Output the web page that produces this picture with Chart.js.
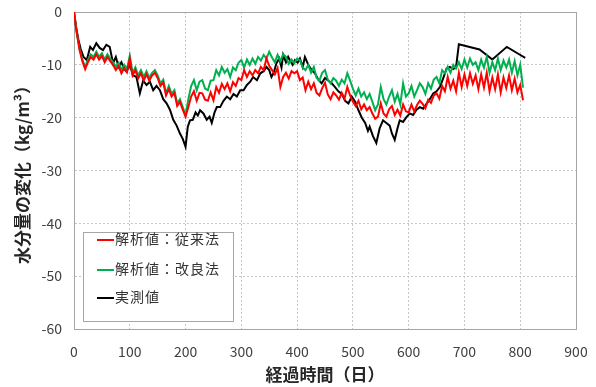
<!DOCTYPE html>
<html>
<head>
<meta charset="utf-8">
<script src="https://cdn.jsdelivr.net/npm/chart.js@4.4.0/dist/chart.umd.min.js"></script>
<style>
  html, body { margin: 0; padding: 0; background: #fff; }
  #wrap { position: relative; width: 596px; height: 387px; }
  #legend {
    position: absolute; left: 83px; top: 232px; width: 149px; height: 88px;
    border: 1px solid #a6a6a6; background: #fff;
    font-family: "Noto Sans CJK JP", sans-serif; font-size: 14px; color: #333;
  }
  .item { position: absolute; left: 13px; height: 18px; line-height: 18px; white-space: nowrap; letter-spacing: 1px; }
  .item span { display: inline-block; width: 17px; height: 2px; vertical-align: middle; margin-right: 1px; }
</style>
</head>
<body>
<div id="wrap">
  <canvas id="chart" width="596" height="387"></canvas>
  <div id="legend"></div>
</div>
<script>
// 解析値（従来法・改良法）の日数
const simDays = [0,5,10,15,20,25,30,35,40,45,50,55,60,65,70,75,80,85,90,95,
  100,105,110,115,120,125,130,135,140,145,150,155,160,165,170,175,180,185,190,195,
  200,205,210,215,220,225,230,235,240,245,250,255,260,265,270,275,280,285,290,295,
  300,305,310,315,320,325,330,335,340,345,350,355,360,365,370,375,380,385,390,395,
  400,405,410,415,420,425,430,435,440,445,450,455,460,465,470,475,480,485,490,495,
  500,505,510,515,520,525,530,535,540,545,550,555,560,565,570,575,580,585,590,595,
  600,605,610,615,620,625,630,635,640,645,650,655,660,665,670,675,680,685,690,695,
  700,705,710,715,720,725,730,735,740,745,750,755,760,765,770,775,780,785,790,795,
  800,805];

const conventional = [0,-4,-7.2,-9.3,-10.8,-9.5,-8.5,-9,-8,-9,-8.3,-9.5,-8.5,-9.3,-10,-11,-10.2,-11.6,-10.6,-11.4,
  -8.8,-12,-11,-12.6,-11.6,-13,-11.8,-13,-12,-11.5,-12.5,-14,-13.3,-15.8,-14.6,-16,-15.3,-17.8,-17,-18.5,
  -19.8,-18,-16,-15,-16.8,-15.3,-15.4,-16.6,-16.8,-15.2,-16.7,-14.2,-15.3,-13.6,-14.6,-13.5,-15,-13.3,-14,-12.5,
  -12.9,-11,-12.3,-11.2,-12,-11,-11.6,-10.4,-11,-8.8,-10.2,-11,-11.8,-10.6,-14.2,-12.3,-11.5,-12.6,-11.2,-11.6,
  -11.2,-12.9,-12.4,-14.8,-13.2,-14.6,-13.5,-15.3,-15.8,-14.4,-13.4,-15.6,-16.5,-15.2,-15.8,-16.6,-15.3,-16.4,-14.2,-15.8,
  -17,-17.8,-16.8,-18.4,-17.5,-18.6,-18,-19.2,-20.2,-19.8,-17.3,-19.2,-19.8,-18.4,-17.8,-19.5,-18.5,-19.6,-17.5,-18.8,
  -19,-17.5,-18.8,-17.6,-16.8,-17.4,-18.2,-16.6,-17.2,-15.8,-15.4,-16.4,-14,-15,-12.3,-14.5,-13,-15,-11.5,-14.2,
  -11.8,-14,-11.6,-13.6,-12,-14.6,-11.8,-14.3,-11.5,-15,-12.4,-14.6,-11.8,-15.2,-12.4,-14.4,-12,-14.8,-12.6,-15.2,
  -13.8,-16.7];

const improved = [0,-4,-7,-9,-10.4,-9,-8,-8.5,-7.5,-8.5,-7.8,-9,-8,-8.8,-9.5,-10.4,-9.6,-11,-10,-10.8,
  -8.3,-11.6,-10.5,-12,-11,-12.3,-11.2,-12.5,-11.5,-11,-12,-13.5,-12.8,-15.4,-14,-15.5,-14.8,-17.3,-16.5,-18,
  -19.5,-16.5,-14,-12.9,-14.8,-13.2,-12.9,-14.5,-14.8,-13,-12.9,-11,-12,-10.4,-11.5,-10.8,-12.3,-10.5,-11,-9.6,
  -9.1,-10.5,-9,-10,-8.8,-9.8,-8.5,-9.2,-8.1,-8.8,-7.5,-8.6,-9.5,-8.1,-9.3,-8,-8.5,-9.8,-9,-9.7,
  -8.8,-9.1,-10.5,-11,-10,-11.5,-10.4,-12.5,-13,-11.5,-11,-12.8,-13.5,-12.5,-13,-14,-12.8,-13.5,-11.6,-13,
  -14.5,-15.8,-14.5,-16,-15.2,-16.5,-15.5,-17,-18.6,-17.5,-14.2,-16.5,-17.5,-16,-14.8,-17,-15.5,-17.5,-13.5,-16,
  -15.4,-14,-16,-14.8,-13.5,-14.2,-15.5,-13.5,-14.5,-12.8,-12.3,-13.5,-11,-11.6,-10.4,-11.5,-10,-10.7,-9.5,-10.8,
  -9,-10.5,-8.8,-10,-9.5,-11,-9,-10.5,-8.5,-11.5,-9.5,-11,-8.8,-11,-9.2,-10.5,-9,-11.5,-9.3,-12,
  -10,-14.3];

// 実測値
const measDays = [0,4,8,12,17,23,29,34,40,46,52,58,64,70,75,80,85,90,94,100,
  106,112,118,124,130,136,142,148,154,160,166,172,178,184,190,195,200,204,208,213,
  218,222,226,232,238,243,247,252,256,262,268,274,280,286,292,298,304,310,316,321,
  328,334,340,345,350,354,358,363,368,372,375,380,384,387,392,396,401,405,410,414,
  420,426,432,438,444,450,456,462,468,474,480,486,492,498,504,510,516,522,527,530,
  536,542,548,554,560,566,570,575,580,584,590,596,602,608,614,620,626,632,638,644,
  650,656,662,668,674,680,685,690,727,750,776,798,809];

const measured = [0,-3,-5.3,-7,-8.5,-9.1,-6.6,-7.2,-5.9,-6.8,-7.2,-6.2,-6.6,-9.7,-8.5,-10.4,-9.5,-10.8,-11.3,-10,
  -12,-12.3,-15.4,-13,-13.8,-13.2,-14.8,-14,-14.8,-16.5,-17.3,-18.5,-20.4,-21.5,-23,-24,-25.5,-21.7,-20.5,-20.4,
  -19,-19.6,-18.6,-19.2,-20.4,-19.8,-21,-19,-18,-18,-16.8,-16,-16.5,-15.5,-16,-14.8,-14.8,-13.8,-13.2,-12.3,
  -12.9,-11.6,-11.2,-10.4,-11,-12.3,-11.5,-9.7,-8.8,-10.5,-8.1,-9.5,-8.5,-9.1,-10,-9.1,-9.6,-8.8,-10.4,-8.5,
  -10,-11,-11.6,-12.8,-13.5,-12.5,-13,-13.5,-14.2,-15,-15.5,-16.8,-17.3,-16,-17,-18.6,-20,-21,-22.5,-21.7,
  -23.5,-24.8,-22,-20.5,-21,-21.5,-23,-24.2,-22,-20.5,-20.8,-19.9,-19.2,-19.5,-18.5,-18,-18.3,-17.4,-16.5,-15.4,
  -15,-14.2,-12.5,-10.7,-10.4,-10.8,-10.4,-6.1,-7.1,-9.0,-6.6,-8.0,-8.7];

const seriesNames = ['解析値：従来法', '解析値：改良法', '実測値'];
const seriesColors = ['#ff0000', '#00b050', '#000000'];

const xTitle = '経過時間（日）';
const yTitle = '水分量の変化（kg/m³）';

const FONT = '"Noto Sans CJK JP", "Noto Sans", sans-serif';

function toPoints(days, vals) {
    return days.map((d, i) => ({ x: d, y: vals[i] }));
}

// plot area frame (top and right edges are solid in the original)
const framePlugin = {
    id: 'frame',
    beforeDatasetsDraw(chart) {
        const { ctx, chartArea: a } = chart;
        ctx.save();
        ctx.strokeStyle = '#a6a6a6';
        ctx.lineWidth = 1;
        ctx.strokeRect(a.left + 0.5, a.top + 0.5, a.right - a.left, a.bottom - a.top);
        ctx.restore();
    }
};

new Chart(document.getElementById('chart'), {
    type: 'line',
    data: {
        datasets: [
            { label: seriesNames[0], data: toPoints(simDays, conventional), borderColor: seriesColors[0] },
            { label: seriesNames[1], data: toPoints(simDays, improved), borderColor: seriesColors[1] },
            { label: seriesNames[2], data: toPoints(measDays, measured), borderColor: seriesColors[2] }
        ]
    },
    options: {
        responsive: false,
        animation: false,
        parsing: false,
        elements: {
            point: { radius: 0 },
            line: { borderWidth: 2, tension: 0 }
        },
        layout: { padding: { left: 0, right: 20, top: 12, bottom: 0 } },
        plugins: {
            legend: { display: false },
            tooltip: { enabled: false }
        },
        scales: {
            x: {
                type: 'linear',
                min: 0,
                max: 900,
                ticks: { stepSize: 100, padding: 14, color: '#404040', font: { family: FONT, size: 14 } },
                grid: { color: '#c8c8c8', lineWidth: 1, drawTicks: false },
                border: { color: '#a6a6a6', dash: [2, 2] },
                title: {
                    display: true, text: xTitle, color: '#262626',
                    font: { family: FONT, size: 17, weight: 'bold' },
                    padding: { top: 0, bottom: 2 }
                },
                afterFit(scale) {
                    scale.height = 58;
                    scale.paddingLeft = 0;
                    scale.paddingRight = 0;
                }
            },
            y: {
                min: -60,
                max: 0,
                ticks: { stepSize: 10, padding: 12, color: '#404040', font: { family: FONT, size: 14 } },
                grid: { color: '#c8c8c8', lineWidth: 1, drawTicks: false },
                border: { color: '#a6a6a6', dash: [2, 2] },
                title: {
                    display: true, text: yTitle, color: '#262626',
                    font: { family: FONT, size: 17, weight: 'bold' },
                    padding: { top: 12, bottom: 0 }
                },
                afterFit(scale) {
                    scale.width = 74;
                    scale.paddingTop = 0;
                    scale.paddingBottom = 0;
                }
            }
        }
    },
    plugins: [framePlugin]
});

// legend box
const legend = document.getElementById('legend');
const rowTops = [237, 267, 295];
seriesNames.forEach((name, i) => {
    const row = document.createElement('div');
    row.className = 'item';
    row.style.top = (rowTops[i] - 232 - 9) + 'px';
    row.innerHTML = `<span style="background:${seriesColors[i]}"></span>${name}`;
    legend.appendChild(row);
});
</script>
</body>
</html>
